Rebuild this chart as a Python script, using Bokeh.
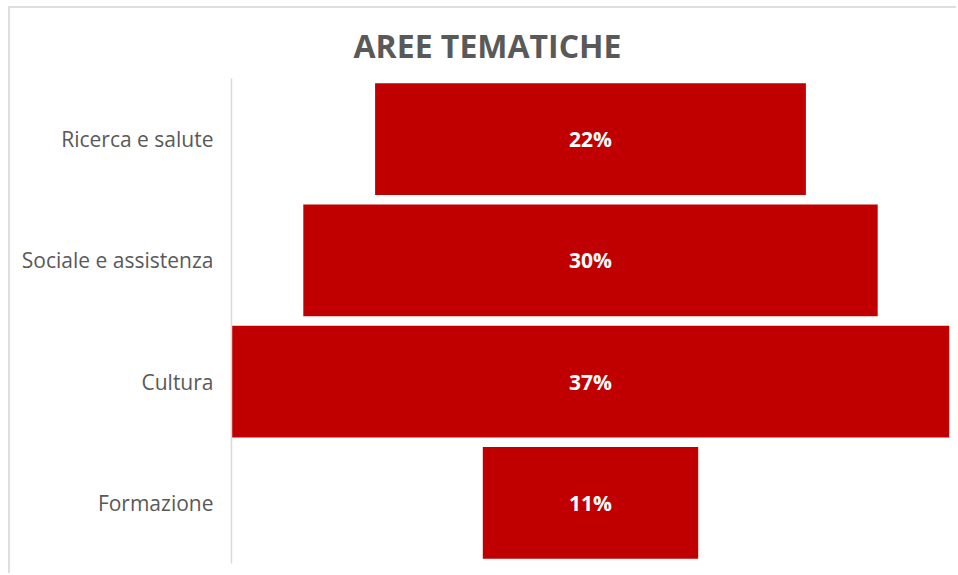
from bokeh.plotting import figure
from bokeh.models import ColumnDataSource, FactorRange, Range1d
from bokeh.embed import file_html
from bokeh.resources import INLINE
from bokeh.core.properties import value

categories = ["Ricerca e salute", "Sociale e assistenza", "Cultura", "Formazione"]
values = [22.2, 29.6, 37.0, 11.1]
labels = ["22%", "30%", "37%", "11%"]

BAR = "#c00000"
GREY = "#595959"

half_max = max(values) / 2
src = ColumnDataSource(dict(
    cat=categories,
    left=[-v / 2 for v in values],
    right=[v / 2 for v in values],
    zero=[0] * len(values),
    lab=labels,
))

p = figure(
    width=948, height=567,
    y_range=FactorRange(factors=list(reversed(categories))),
    x_range=Range1d(-half_max, half_max),
    output_backend="svg", toolbar_location=None,
    min_border_left=221, min_border_right=9, min_border_top=70, min_border_bottom=12,
    title="AREE TEMATICHE",
)
p.styles = {"margin-left": "8px", "margin-top": "6px",
            "border-top": "2px solid #dedede", "border-left": "2px solid #dedede"}

p.hbar(y="cat", left="left", right="right", height=0.92, source=src,
       fill_color=BAR, line_color=None)
p.text(x="zero", y="cat", text="lab", source=src, text_align="center",
       text_baseline="middle", text_color="white", text_font=value("Open Sans"),
       text_font_style="bold", text_font_size="21px")

p.title.align = "left"
p.title.offset = 122
p.title.standoff = 23
p.title.text_font = "Open Sans"
p.title.text_font_style = "bold"
p.title.text_font_size = "32px"
p.title.text_color = GREY

p.xaxis.visible = False
p.xgrid.visible = False
p.ygrid.visible = False
p.outline_line_color = None

ax = p.yaxis[0]
ax.axis_line_color = "#d9d9d9"
ax.axis_line_width = 1.5
ax.major_tick_line_color = None
ax.minor_tick_line_color = None
ax.major_tick_out = 0
ax.major_tick_in = 0
ax.major_label_standoff = 18
ax.major_label_text_font = "Open Sans"
ax.major_label_text_font_size = "21px"
ax.major_label_text_color = GREY

open("out.html", "w").write(file_html(p, INLINE))
